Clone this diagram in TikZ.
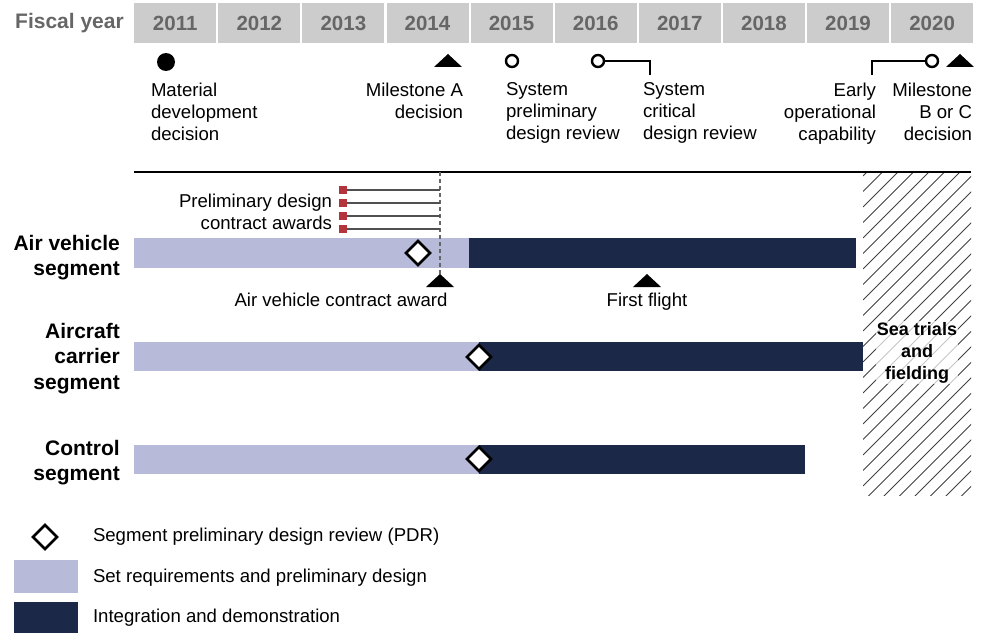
\documentclass[tikz,border=0pt]{standalone}
\usepackage{fontspec}
\setmainfont{Liberation Sans}
\usetikzlibrary{shapes.geometric}
\definecolor{hdr}{HTML}{CCCCCC}
\definecolor{hdrtxt}{HTML}{666666}
\definecolor{lightbar}{HTML}{B7BBD9}
\definecolor{darkbar}{HTML}{1B2848}
\definecolor{awardred}{HTML}{B3343C}
\definecolor{awardline}{HTML}{505050}
\begin{document}
\begin{tikzpicture}[x=1pt,y=-1pt,
  txt/.style={font=\fontsize{18.6}{21.8}\selectfont, inner sep=0pt, outer sep=0pt},
  seglbl/.style={font=\fontsize{21}{25.5}\selectfont\bfseries, align=right, inner sep=0pt, anchor=north east},
  yearcell/.style={fill=hdr, minimum width=82pt, minimum height=40pt, inner sep=0pt, anchor=north west, text=hdrtxt, font=\fontsize{20.5}{24}\selectfont\bfseries},
  pdr/.style={diamond, draw=black, fill=white, line width=2.6pt, minimum size=25pt, inner sep=0pt},
  opencirc/.style={circle, draw=black, fill=white, line width=2.4pt, minimum size=12pt, inner sep=0pt},
  fullcirc/.style={circle, fill=black, minimum size=18pt, inner sep=0pt},
  bracket/.style={draw=black, line width=1.8pt},
  hatchline/.style={draw=black!75, line width=0.9pt},
  awardsq/.style={fill=awardred, minimum size=8pt, inner sep=0pt},
  awardln/.style={draw=awardline, line width=1.5pt},
  tri/.style={fill=black}
]
\useasboundingbox (0,0) rectangle (988,634);

% header
\node[anchor=east, text=hdrtxt, font=\fontsize{21}{24}\selectfont\bfseries, inner sep=0pt] (fy) at (124,23) {Fiscal year};
\foreach \yr [count=\k from 0] in {2011,2012,2013,2014,2015,2016,2017,2018,2019,2020}
  \node[yearcell] (y\yr) at ({134+84.1*\k},3) {\yr};

% milestone row
\node[fullcirc] (mdd) at (166,62) {};
\node[txt, align=left, anchor=north west] (mddl) at (151,83) {Material\\development\\decision};
\fill[tri] (434,67) -- (462,67) -- (448,54) -- cycle;
\node[txt, align=right, anchor=north east] (msal) at (463,83) {Milestone A\\decision};
\node[opencirc] (spdr) at (512,61) {};
\node[txt, align=left, anchor=north west] (spdrl) at (506,83) {System\\preliminary\\design review};
\node[opencirc] (scdr) at (598,61) {};
\coordinate (scdrend) at (650,75);
\draw[bracket] (scdr.east) -| (scdrend);
\node[txt, align=left, anchor=north west] (scdrl) at (643,83) {System\\critical\\design review};
\node[opencirc] (eoc) at (932,61) {};
\coordinate (eocend) at (872,75);
\draw[bracket] (eoc.west) -| (eocend);
\node[txt, align=right, anchor=north east] (eocl) at (876,83) {Early\\operational\\capability};
\fill[tri] (946,67) -- (974,67) -- (960,54) -- cycle;
\node[txt, align=right, anchor=north east] (msbl) at (972,83) {Milestone\\B or C\\decision};

% hatched region
\begin{scope}
  \clip (863,172) rectangle (971,495);
  \foreach \t in {176,191.5,...,640}
    \draw[hatchline] (863,\t) -- ++(130,-130);
\end{scope}

% top rule
\coordinate (ruleL) at (134,172);
\coordinate (ruleR) at (971,172);
\draw[black, line width=1.5pt] (ruleL) -- (ruleR);

% bars
\fill[lightbar] (134,238) rectangle (469,268);
\fill[darkbar] (469,238) rectangle (856,268);
\fill[lightbar] (134,342) rectangle (479,371);
\fill[darkbar] (479,342) rectangle (863,371);
\fill[lightbar] (134,445) rectangle (479,474);
\fill[darkbar] (479,445) rectangle (805,474);

% segment labels
\node[seglbl] (avs) at (120,235) {Air vehicle\\segment};
\node[seglbl] (acs) at (120,323) {Aircraft\\carrier\\segment};
\node[seglbl] (cs) at (120,440) {Control\\segment};

% preliminary design contract awards
\coordinate (dashtop) at (440,172);
\coordinate (dashbot) at (440,276);
\draw[black!60, line width=1.2pt, dash pattern=on 4pt off 3pt] (dashtop) -- (dashbot);
\foreach \yy [count=\n] in {190,203,216,229} {
  \node[awardsq] (sq\n) at (343,\yy) {};
  \coordinate (se\n) at (440,\yy);
  \draw[awardln] (sq\n.east) -- (se\n);
}
\node[txt, align=right, anchor=north east] (pdca) at (332,194) {Preliminary design\\contract awards};

% PDR diamonds
\node[pdr] (pdrav) at (418,253) {};
\node[pdr] (pdrac) at (479,357) {};
\node[pdr] (pdrcs) at (479,459) {};

% lower triangles
\fill[tri] (426,287) -- (454,287) -- (440,274) -- cycle;
\node[txt, anchor=north] (ava) at (341,293) {Air vehicle contract award};
\fill[tri] (633,287) -- (661,287) -- (647,274) -- cycle;
\node[txt, anchor=north] (ff) at (647,293) {First flight};

% sea trials label
\node[font=\fontsize{18}{22}\selectfont\bfseries, align=center, anchor=north, fill=white, fill opacity=0.7, text opacity=1, inner sep=1pt] (sea) at (917,321) {Sea trials\\and\\fielding};

% legend
\node[pdr] (lgd) at (45,537) {};
\node[txt, anchor=west] (lgdt) at (93,537) {Segment preliminary design review (PDR)};
\fill[lightbar] (14,560) rectangle (78,593);
\node[txt, anchor=west] (lgl) at (93,578) {Set requirements and preliminary design};
\fill[darkbar] (14,602) rectangle (78,633);
\node[txt, anchor=west] (lgdk) at (93,618) {Integration and demonstration};
\end{tikzpicture}
\end{document}
